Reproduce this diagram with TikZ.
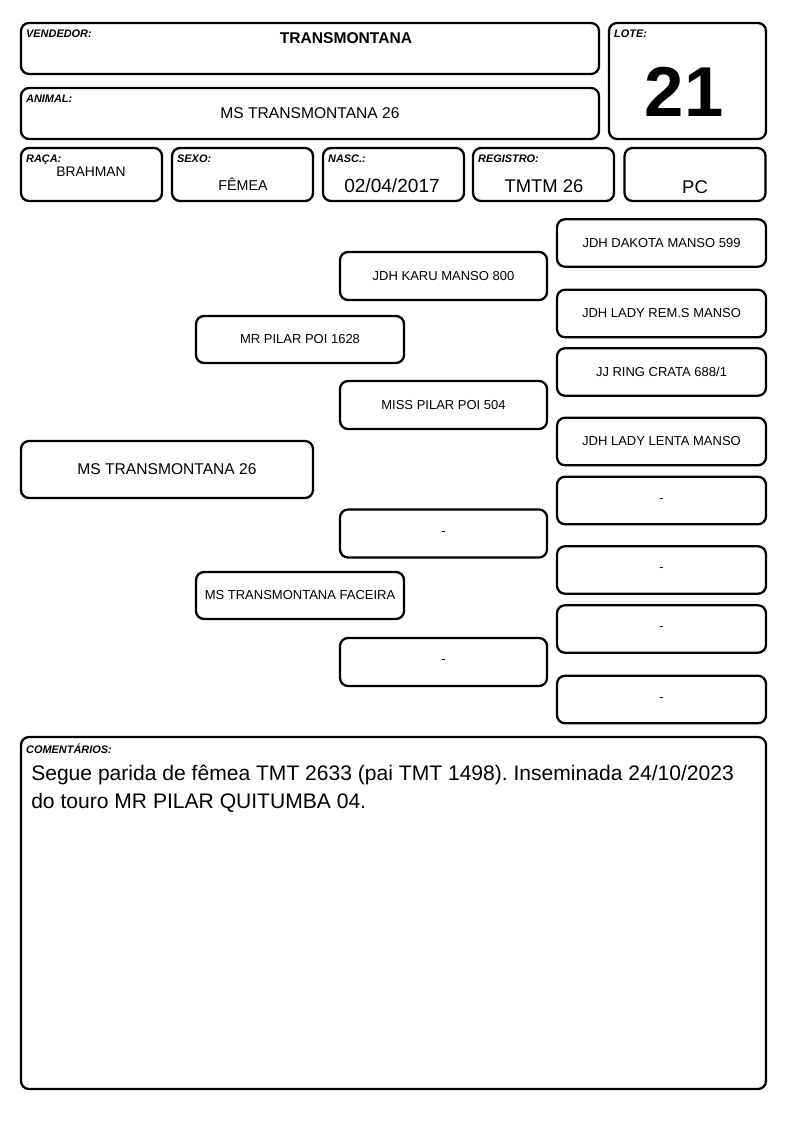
\documentclass[tikz,border=0pt]{standalone}
\usepackage{fontspec}
\setmainfont{Liberation Sans}
\usepackage{tikz}
\frenchspacing
\def\frm{\node[frame]}
\def\ped{\node[frame,font=\fontsize{9.75}{11}\selectfont]}
\def\tag#1#2{\node[lab,anchor=north west] (#1-l) at ([shift={(6,8)}]#1.north west) {#2};}
\tikzset{
  frame/.style={draw,line width=1.7pt,rounded corners=6pt,inner sep=0pt},
  lab/.style={font=\bfseries\itshape\fontsize{8.2}{9}\selectfont,inner sep=0pt},
  small/.style={minimum width=105.75pt,minimum height=39.75pt},
  gen2/.style={minimum width=156pt,minimum height=35.25pt},
  gen3/.style={minimum width=155.25pt,minimum height=36pt},
  gen4/.style={minimum width=156.75pt,minimum height=35.6pt}
}
\begin{document}
\begin{tikzpicture}[x=0.75pt,y=-0.75pt]
                \useasboundingbox (0,0) rectangle (794,1123);
                % header
                \frm[minimum width=433.5pt,minimum height=38.25pt] (vend) at (310,48.5) {};
                \frm[minimum width=433.5pt,minimum height=38.25pt] (anim) at (310,113.5) {};
                \frm[minimum width=117.75pt,minimum height=87pt] (lote) at (687.5,81) {};
                \frm[small] (raca) at (91.5,174.5) {};
                \frm[small] (sexo) at (242.5,174.5) {};
                \frm[small] (nasc) at (393.5,174.5) {};
                \frm[small] (reg) at (543.5,174.5) {};
                \frm[small] (pc) at (695,174.5) {};
                \tag{vend}{VENDEDOR:}
                \tag{anim}{ANIMAL:}
                \tag{lote}{LOTE:}
                \tag{raca}{RAÇA:}
                \tag{sexo}{SEXO:}
                \tag{nasc}{NASC.:}
                \tag{reg}{REGISTRO:}
                \node[font=\bfseries\fontsize{11.7}{13}\selectfont] (vend-t) at (346,38) {TRANSMONTANA};
                \node[font=\fontsize{11.7}{13}\selectfont] (anim-t) at (310,113) {MS TRANSMONTANA 26};
                \node[font=\bfseries\fontsize{53}{60}\selectfont] (lote-t) at (684,92) {21};
                \node[font=\fontsize{10.4}{12}\selectfont] (raca-t) at (91,172) {BRAHMAN};
                \node[font=\fontsize{10.7}{12}\selectfont] (sexo-t) at (243,184) {FÊMEA};
                \node[font=\fontsize{14.3}{16}\selectfont] (nasc-t) at (392,186) {02/04/2017};
                \node[font=\fontsize{13.8}{16}\selectfont] (reg-t) at (544,186) {TMTM 26};
                \node[font=\fontsize{13.8}{16}\selectfont] (pc-t) at (695,187) {PC};
                % pedigree
                \frm[minimum width=219pt,minimum height=42.75pt,font=\fontsize{11.7}{13}\selectfont] (an) at (167,469.5) {MS TRANSMONTANA 26};
                \ped[gen2] (p1) at (300,339.5) {MR PILAR POI 1628};
                \ped[gen2] (p2) at (300,595.5) {MS TRANSMONTANA FACEIRA};
                \ped[gen3] (g1) at (443.5,276) {JDH KARU MANSO 800};
                \ped[gen3] (g2) at (443.5,405) {MISS PILAR POI 504};
                \ped[gen3] (g3) at (443.5,533.5) {-};
                \ped[gen3] (g4) at (443.5,662) {-};
                \ped[gen4] (gg1) at (661.5,243) {JDH DAKOTA MANSO 599};
                \ped[gen4] (gg2) at (661.5,313.5) {JDH LADY REM.S MANSO};
                \ped[gen4] (gg3) at (661.5,372) {JJ RING CRATA 688/1};
                \ped[gen4] (gg4) at (661.5,441.5) {JDH LADY LENTA MANSO};
                \ped[gen4] (gg5) at (661.5,500.5) {-};
                \ped[gen4] (gg6) at (661.5,570) {-};
                \ped[gen4] (gg7) at (661.5,629) {-};
                \ped[gen4] (gg8) at (661.5,699.5) {-};
                % comments
                \frm[minimum width=558.75pt,minimum height=264pt] (com) at (393.5,913) {};
                \tag{com}{COMENTÁRIOS:}
                \node[anchor=north west,inner sep=0pt,align=left,font=\fontsize{15.8}{21}\selectfont] (com-t) at (31,765)
                    {Segue parida de fêmea TMT 2633 (pai TMT 1498). Inseminada 24/10/2023\\do touro MR PILAR QUITUMBA 04.};
            \end{tikzpicture}
\end{document}
